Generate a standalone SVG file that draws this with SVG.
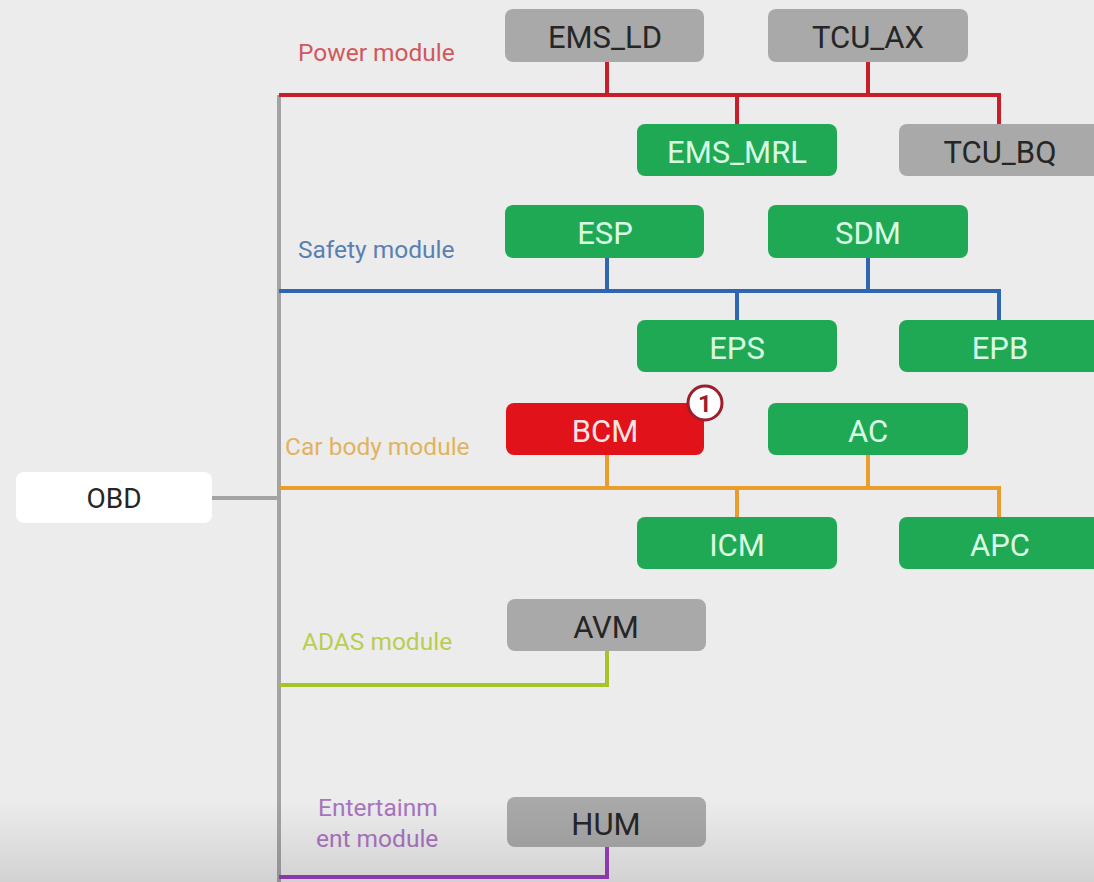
<svg xmlns="http://www.w3.org/2000/svg" width="1094" height="882" viewBox="0 0 1094 882">
  <defs>
    <linearGradient id="floorShade" x1="0" y1="0" x2="0" y2="1">
      <stop offset="0" stop-color="#000" stop-opacity="0"/>
      <stop offset="1" stop-color="#000" stop-opacity="0.11"/>
    </linearGradient>
    <style>
      .node rect { rx: 8px; ry: 8px; }
      .gray rect { fill: #a9a9a9; }
      .green rect { fill: #20a955; }
      .red rect { fill: #e11219; }
      .white rect { fill: #ffffff; }
      .node text { font-family: Roboto, "Liberation Sans", Arial, sans-serif; font-size: 31px; text-anchor: middle; dominant-baseline: central; }
      .gray text, .white text { fill: #262626; }
      .green text { fill: #d9fbe4; }
      .red text { fill: #fbe4e4; }
      .bus { fill: none; stroke-width: 4; stroke-linejoin: miter; }
      .lbl { font-family: Roboto, "Liberation Sans", Arial, sans-serif; font-size: 24.5px; }
    </style>
  </defs>

  <rect width="1094" height="882" fill="#ececec"/>

  <!-- bus lines -->
  <g id="connectors">
    <!-- main trunk and OBD link -->
    <path class="bus" stroke="#a3a3a3" d="M279 95 V882 M212 498 H279"/>
    <!-- power bus -->
    <path class="bus" stroke="#c81e2a" d="M279 95 H999 V124 M607 62 V95 M868 62 V95 M737 95 V124"/>
    <!-- safety bus -->
    <path class="bus" stroke="#2f66b3" d="M279 291 H999 V320 M607 258 V291 M868 258 V291 M737 291 V320"/>
    <!-- car body bus -->
    <path class="bus" stroke="#e79e2c" d="M279 488 H999 V517 M607 455 V488 M868 455 V488 M737 488 V517"/>
    <!-- ADAS bus -->
    <path class="bus" stroke="#a6c426" d="M279 685 H607 V651"/>
    <!-- entertainment bus -->
    <path class="bus" stroke="#9a3fc0" d="M279 877 H607 V847"/>
  </g>

  <!-- bus labels -->
  <g id="labels">
    <text class="lbl" x="298" y="61" fill="#d0585c">Power module</text>
    <text class="lbl" x="298" y="258" fill="#5a7fb2">Safety module</text>
    <text class="lbl" x="285" y="455" fill="#e2b35e">Car body module</text>
    <text class="lbl" x="302" y="650" fill="#b9cd52">ADAS module</text>
    <text class="lbl" x="318" y="816" fill="#a974c0">Entertainm</text>
    <text class="lbl" x="316" y="847" fill="#a974c0">ent module</text>
  </g>

  <g id="OBD" class="node white"><rect x="16" y="472" width="196" height="51"/><text x="114" y="498" style="font-size:28px">OBD</text></g>

  <g id="EMS_LD" class="node gray"><rect x="505" y="9" width="199" height="53"/><text x="605" y="37">EMS_LD</text></g>
  <g id="TCU_AX" class="node gray"><rect x="768" y="9" width="200" height="53"/><text x="868" y="37">TCU_AX</text></g>
  <g id="EMS_MRL" class="node green"><rect x="637" y="124" width="200" height="52"/><text x="737" y="152">EMS_MRL</text></g>
  <g id="TCU_BQ" class="node gray"><rect x="899" y="124" width="205" height="52"/><text x="1000" y="152">TCU_BQ</text></g>

  <g id="ESP" class="node green"><rect x="505" y="205" width="199" height="53"/><text x="605" y="233">ESP</text></g>
  <g id="SDM" class="node green"><rect x="768" y="205" width="200" height="53"/><text x="868" y="233">SDM</text></g>
  <g id="EPS" class="node green"><rect x="637" y="320" width="200" height="52"/><text x="737" y="348">EPS</text></g>
  <g id="EPB" class="node green"><rect x="899" y="320" width="205" height="52"/><text x="1000" y="348">EPB</text></g>

  <g id="BCM" class="node red"><rect x="506" y="403" width="198" height="52"/><text x="605" y="431">BCM</text></g>
  <g id="badge">
    <circle cx="705" cy="403" r="17" fill="#ffffff" stroke="#9e1d2a" stroke-width="3"/>
    <text x="705" y="404" font-family="Roboto, 'Liberation Sans', Arial, sans-serif" font-size="24" font-weight="bold" fill="#9e1d2a" text-anchor="middle" dominant-baseline="central">1</text>
  </g>
  <g id="AC" class="node green"><rect x="768" y="403" width="200" height="52"/><text x="868" y="431">AC</text></g>
  <g id="ICM" class="node green"><rect x="637" y="517" width="200" height="52"/><text x="737" y="545">ICM</text></g>
  <g id="APC" class="node green"><rect x="899" y="517" width="205" height="52"/><text x="1000" y="545">APC</text></g>

  <g id="AVM" class="node gray"><rect x="507" y="599" width="199" height="52"/><text x="606" y="627">AVM</text></g>
  <g id="HUM" class="node gray"><rect x="507" y="797" width="199" height="50"/><text x="606" y="824">HUM</text></g>

  <!-- darker band along the bottom edge -->
  <rect x="0" y="800" width="1094" height="82" fill="url(#floorShade)"/>
</svg>
